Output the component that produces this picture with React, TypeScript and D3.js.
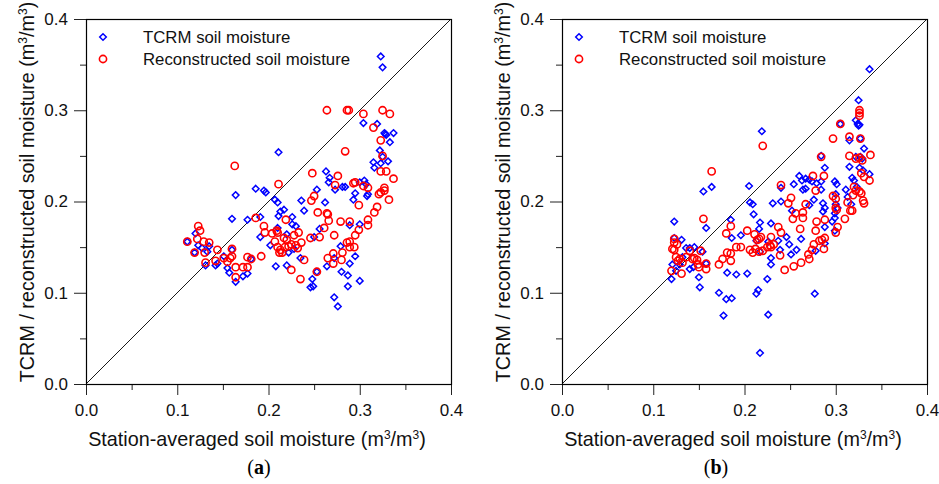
import React, { useEffect, useRef } from "react";
import * as d3 from "d3";

type Pt = [number, number];

// (a) values: [station-averaged, satellite]
const tcrmA: Pt[] = [
  [0.323, 0.359], [0.325, 0.347], [0.304, 0.286], [0.319, 0.285], [0.327, 0.275], [0.328, 0.274],
  [0.329, 0.273], [0.337, 0.275], [0.333, 0.265], [0.322, 0.256], [0.325, 0.249], [0.331, 0.244],
  [0.315, 0.243], [0.316, 0.237], [0.323, 0.242], [0.211, 0.254], [0.263, 0.233], [0.267, 0.226],
  [0.266, 0.221], [0.273, 0.213], [0.281, 0.216], [0.284, 0.216], [0.305, 0.223], [0.300, 0.221],
  [0.307, 0.219], [0.309, 0.208], [0.308, 0.206], [0.295, 0.209], [0.293, 0.202], [0.253, 0.213],
  [0.262, 0.199], [0.236, 0.201], [0.239, 0.190], [0.164, 0.207], [0.186, 0.214], [0.195, 0.212],
  [0.197, 0.210], [0.207, 0.202], [0.210, 0.199], [0.217, 0.191], [0.213, 0.189], [0.226, 0.183],
  [0.211, 0.184], [0.191, 0.183], [0.177, 0.180], [0.160, 0.181], [0.226, 0.175], [0.230, 0.173],
  [0.220, 0.164], [0.210, 0.171], [0.191, 0.161], [0.256, 0.170], [0.250, 0.161], [0.300, 0.175],
  [0.289, 0.174], [0.279, 0.151], [0.202, 0.152], [0.208, 0.129], [0.220, 0.130], [0.235, 0.138],
  [0.228, 0.148], [0.222, 0.144], [0.264, 0.129], [0.253, 0.123], [0.248, 0.115], [0.246, 0.106],
  [0.249, 0.107], [0.272, 0.095], [0.276, 0.085], [0.280, 0.123], [0.287, 0.119], [0.287, 0.107],
  [0.300, 0.113], [0.289, 0.132], [0.295, 0.140], [0.272, 0.138], [0.111, 0.156], [0.120, 0.165],
  [0.123, 0.152], [0.127, 0.149], [0.133, 0.145], [0.131, 0.130], [0.119, 0.144], [0.142, 0.130],
  [0.144, 0.132], [0.155, 0.127], [0.157, 0.122], [0.164, 0.112], [0.172, 0.118], [0.177, 0.121],
  [0.181, 0.137], [0.160, 0.147], [0.151, 0.140], [0.135, 0.151],
];

const reconA: Pt[] = [
  [0.264, 0.300], [0.286, 0.300], [0.288, 0.300], [0.304, 0.296], [0.325, 0.300], [0.333, 0.296],
  [0.315, 0.281], [0.323, 0.267], [0.325, 0.250], [0.284, 0.255], [0.163, 0.239], [0.248, 0.231],
  [0.276, 0.228], [0.273, 0.218], [0.293, 0.220], [0.295, 0.221], [0.304, 0.217], [0.309, 0.215],
  [0.323, 0.233], [0.329, 0.233], [0.337, 0.225], [0.327, 0.215], [0.323, 0.210], [0.327, 0.212],
  [0.321, 0.208], [0.332, 0.202], [0.299, 0.196], [0.319, 0.194], [0.316, 0.188], [0.309, 0.180],
  [0.309, 0.174], [0.299, 0.169], [0.295, 0.163], [0.294, 0.150], [0.289, 0.156], [0.286, 0.155],
  [0.211, 0.219], [0.250, 0.206], [0.247, 0.201], [0.254, 0.188], [0.264, 0.187], [0.265, 0.186],
  [0.266, 0.179], [0.279, 0.178], [0.289, 0.178], [0.261, 0.171], [0.256, 0.161], [0.246, 0.160],
  [0.272, 0.163], [0.186, 0.182], [0.195, 0.173], [0.196, 0.166], [0.204, 0.165], [0.219, 0.180],
  [0.209, 0.168], [0.210, 0.166], [0.217, 0.160], [0.220, 0.158], [0.228, 0.163], [0.233, 0.166],
  [0.236, 0.155], [0.207, 0.156], [0.210, 0.150], [0.213, 0.147], [0.215, 0.144], [0.212, 0.144],
  [0.218, 0.150], [0.222, 0.151], [0.225, 0.153], [0.230, 0.152], [0.232, 0.149], [0.192, 0.140],
  [0.239, 0.136], [0.225, 0.125], [0.235, 0.115], [0.253, 0.123], [0.265, 0.138], [0.271, 0.143],
  [0.271, 0.132], [0.280, 0.136], [0.281, 0.144], [0.289, 0.150], [0.111, 0.156], [0.123, 0.173],
  [0.125, 0.168], [0.122, 0.159], [0.129, 0.156], [0.135, 0.155], [0.119, 0.144], [0.130, 0.144],
  [0.131, 0.133], [0.144, 0.147], [0.142, 0.135], [0.151, 0.138], [0.155, 0.134], [0.158, 0.138],
  [0.160, 0.148], [0.160, 0.140], [0.164, 0.128], [0.164, 0.117], [0.172, 0.128], [0.177, 0.139],
  [0.177, 0.128], [0.181, 0.137],
];

// (b)
const tcrmB: Pt[] = [
  [0.337, 0.345], [0.325, 0.311], [0.322, 0.289], [0.324, 0.285], [0.326, 0.284], [0.325, 0.283],
  [0.305, 0.285], [0.315, 0.267], [0.327, 0.269], [0.331, 0.258], [0.322, 0.249], [0.327, 0.249],
  [0.329, 0.247], [0.315, 0.238], [0.326, 0.237], [0.330, 0.234], [0.318, 0.226], [0.337, 0.230],
  [0.320, 0.223], [0.323, 0.216], [0.311, 0.213], [0.313, 0.205], [0.317, 0.197], [0.284, 0.250],
  [0.288, 0.237], [0.260, 0.228], [0.263, 0.223], [0.267, 0.225], [0.271, 0.224], [0.274, 0.222],
  [0.279, 0.220], [0.284, 0.222], [0.264, 0.213], [0.267, 0.214], [0.254, 0.219], [0.240, 0.215],
  [0.284, 0.213], [0.299, 0.222], [0.301, 0.219], [0.300, 0.208], [0.276, 0.202], [0.271, 0.196],
  [0.286, 0.198], [0.288, 0.193], [0.286, 0.189], [0.300, 0.197], [0.302, 0.193], [0.299, 0.187],
  [0.296, 0.178], [0.299, 0.182], [0.288, 0.172], [0.299, 0.168], [0.252, 0.190], [0.240, 0.200],
  [0.231, 0.198], [0.205, 0.217], [0.206, 0.199], [0.209, 0.197], [0.210, 0.186], [0.219, 0.277],
  [0.217, 0.177], [0.216, 0.170], [0.229, 0.176], [0.164, 0.216], [0.155, 0.211], [0.158, 0.171],
  [0.123, 0.178], [0.185, 0.180], [0.186, 0.160], [0.196, 0.163], [0.213, 0.157], [0.226, 0.156],
  [0.237, 0.157], [0.246, 0.161], [0.249, 0.153], [0.257, 0.147], [0.262, 0.159], [0.251, 0.142],
  [0.239, 0.147], [0.229, 0.138], [0.229, 0.131], [0.217, 0.145], [0.278, 0.146], [0.288, 0.154],
  [0.203, 0.121], [0.191, 0.120], [0.181, 0.122], [0.172, 0.100], [0.180, 0.093], [0.186, 0.094],
  [0.177, 0.075], [0.213, 0.099], [0.215, 0.103], [0.225, 0.115], [0.226, 0.076], [0.217, 0.034],
  [0.277, 0.099], [0.150, 0.117], [0.151, 0.106], [0.145, 0.150], [0.140, 0.149], [0.136, 0.149],
  [0.131, 0.158], [0.123, 0.160], [0.121, 0.131], [0.120, 0.115], [0.129, 0.131], [0.132, 0.139],
  [0.140, 0.126], [0.144, 0.128], [0.125, 0.124], [0.158, 0.132], [0.154, 0.145],
];

const reconB: Pt[] = [
  [0.326, 0.300], [0.326, 0.297], [0.326, 0.294], [0.305, 0.285], [0.315, 0.271], [0.327, 0.269],
  [0.297, 0.269], [0.315, 0.250], [0.322, 0.247], [0.326, 0.248], [0.329, 0.245], [0.338, 0.251],
  [0.284, 0.249], [0.220, 0.261], [0.164, 0.233], [0.328, 0.231], [0.331, 0.227], [0.337, 0.223],
  [0.320, 0.216], [0.322, 0.212], [0.326, 0.211], [0.328, 0.209], [0.319, 0.207], [0.275, 0.228],
  [0.287, 0.228], [0.240, 0.218], [0.278, 0.212], [0.297, 0.206], [0.300, 0.203], [0.300, 0.193],
  [0.301, 0.191], [0.313, 0.199], [0.316, 0.190], [0.318, 0.190], [0.330, 0.201], [0.331, 0.198],
  [0.310, 0.181], [0.302, 0.172], [0.300, 0.166], [0.248, 0.198], [0.251, 0.204], [0.256, 0.187],
  [0.264, 0.188], [0.267, 0.197], [0.264, 0.182], [0.253, 0.181], [0.279, 0.178], [0.288, 0.180],
  [0.278, 0.168], [0.261, 0.170], [0.288, 0.160], [0.285, 0.158], [0.282, 0.157], [0.276, 0.153],
  [0.287, 0.148], [0.274, 0.147], [0.270, 0.142], [0.271, 0.137], [0.262, 0.133], [0.254, 0.129],
  [0.244, 0.125], [0.239, 0.141], [0.237, 0.172], [0.240, 0.166], [0.229, 0.161], [0.228, 0.152],
  [0.225, 0.150], [0.229, 0.150], [0.232, 0.153], [0.203, 0.168], [0.211, 0.164], [0.218, 0.161],
  [0.216, 0.159], [0.214, 0.158], [0.206, 0.147], [0.209, 0.144], [0.212, 0.148], [0.216, 0.145],
  [0.220, 0.146], [0.155, 0.181], [0.185, 0.173], [0.180, 0.165], [0.191, 0.150], [0.196, 0.150],
  [0.181, 0.144], [0.185, 0.143], [0.176, 0.137], [0.185, 0.135], [0.172, 0.131], [0.123, 0.159],
  [0.123, 0.155], [0.121, 0.148], [0.123, 0.147], [0.126, 0.153], [0.125, 0.139], [0.127, 0.135],
  [0.129, 0.137], [0.132, 0.133], [0.120, 0.124], [0.131, 0.121], [0.140, 0.146], [0.143, 0.137],
  [0.145, 0.138], [0.148, 0.136], [0.149, 0.131], [0.150, 0.128], [0.152, 0.146], [0.158, 0.132],
  [0.158, 0.126], [0.136, 0.139],
];

const majorTicks = [0, 0.1, 0.2, 0.3, 0.4];
const minorTicks = [0.05, 0.15, 0.25, 0.35];
const seriesNames = ["TCRM soil moisture", "Reconstructed soil moisture"];
const panelLabels = ["a", "b"];

const FONT = "'Liberation Sans', Arial, Helvetica, sans-serif";
const top = 19;
const bottom = 384;
const size = 365;

const App = () => {
  const ref = useRef<SVGSVGElement>(null);

  useEffect(() => {
    const svg = d3.select(ref.current);
    svg.selectAll("*").remove();

    const panels = [
      { left: 86, tcrm: tcrmA, recon: reconA, label: panelLabels[0], labelX: 259 },
      { left: 562, tcrm: tcrmB, recon: reconB, label: panelLabels[1], labelX: 716 },
    ];

    const diamond = (cx: number, cy: number) => {
      const r = 3.3;
      return `M${cx},${cy - r}L${cx + r},${cy}L${cx},${cy + r}L${cx - r},${cy}Z`;
    };

    panels.forEach((p) => {
      const x = d3.scaleLinear().domain([0, 0.4]).range([p.left, p.left + size]);
      const y = d3.scaleLinear().domain([0, 0.4]).range([bottom, top]);
      const g = svg.append("g");

      const styleAxis = (sel: any) => {
        sel.select(".domain").remove();
        sel.selectAll(".tick line").attr("stroke", "#222");
        sel
          .selectAll(".tick text")
          .attr("font-family", FONT)
          .attr("font-size", 17)
          .attr("fill", "#111");
      };

      // minor ticks
      g.append("g")
        .attr("transform", `translate(0,${bottom})`)
        .call(d3.axisBottom(x).tickValues(minorTicks).tickSize(6).tickFormat(() => ""))
        .call(styleAxis);
      g.append("g")
        .attr("transform", `translate(${p.left},0)`)
        .call(d3.axisLeft(y).tickValues(minorTicks).tickSize(6).tickFormat(() => ""))
        .call(styleAxis);

      // major ticks
      g.append("g")
        .attr("transform", `translate(0,${bottom})`)
        .call(d3.axisBottom(x).tickValues(majorTicks).tickSize(11).tickPadding(9).tickFormat(d3.format(".1f")))
        .call(styleAxis);
      g.append("g")
        .attr("transform", `translate(${p.left},0)`)
        .call(d3.axisLeft(y).tickValues(majorTicks).tickSize(12).tickPadding(6).tickFormat(d3.format(".1f")))
        .call(styleAxis);

      // frame
      g.append("rect")
        .attr("x", p.left + 0.5)
        .attr("y", top + 0.5)
        .attr("width", size)
        .attr("height", size)
        .attr("fill", "none")
        .attr("stroke", "#000")
        .attr("stroke-width", 1.2);

      // 1:1 line
      g.append("line")
        .attr("x1", x(0))
        .attr("y1", y(0))
        .attr("x2", x(0.4))
        .attr("y2", y(0.4))
        .attr("stroke", "#000")
        .attr("stroke-width", 0.9);

      // points
      g.append("g")
        .selectAll("path")
        .data(p.tcrm)
        .enter()
        .append("path")
        .attr("d", (d) => diamond(x(d[0]), y(d[1])))
        .attr("fill", "none")
        .attr("stroke", "#0000ff")
        .attr("stroke-width", 1.5);

      g.append("g")
        .selectAll("circle")
        .data(p.recon)
        .enter()
        .append("circle")
        .attr("cx", (d) => x(d[0]))
        .attr("cy", (d) => y(d[1]))
        .attr("r", 3.6)
        .attr("fill", "none")
        .attr("stroke", "#ff0000")
        .attr("stroke-width", 1.6);

      // legend
      const lx = p.left + 17;
      const lg = g.append("g");
      lg.append("rect")
        .attr("x", lx - 6)
        .attr("y", 29)
        .attr("width", 270)
        .attr("height", 38)
        .attr("fill", "#fff");
      lg.append("path")
        .attr("d", diamond(lx, 37))
        .attr("fill", "none")
        .attr("stroke", "#0000ff")
        .attr("stroke-width", 1.5);
      lg.append("circle")
        .attr("cx", lx)
        .attr("cy", 59)
        .attr("r", 3.6)
        .attr("fill", "none")
        .attr("stroke", "#ff0000")
        .attr("stroke-width", 1.6);
      seriesNames.forEach((name, i) => {
        lg.append("text")
          .attr("x", lx + 40)
          .attr("y", 43 + i * 22)
          .attr("font-family", FONT)
          .attr("font-size", 16.8)
          .attr("fill", "#111")
          .text(name);
      });

      // axis titles
      const xt = g
        .append("text")
        .attr("x", p.left + 171)
        .attr("y", 446)
        .attr("text-anchor", "middle")
        .attr("font-family", FONT)
        .attr("font-size", 19.8)
        .attr("fill", "#111");
      xt.append("tspan").text("Station-averaged soil moisture (m");
      xt.append("tspan").attr("font-size", 12).attr("dy", -7).text("3");
      xt.append("tspan").attr("dy", 7).text("/m");
      xt.append("tspan").attr("font-size", 12).attr("dy", -7).text("3");
      xt.append("tspan").attr("dy", 7).text(")");

      const yt = g
        .append("text")
        .attr("transform", `translate(${p.left - 52},192) rotate(-90)`)
        .attr("text-anchor", "middle")
        .attr("font-family", FONT)
        .attr("font-size", 19.8)
        .attr("fill", "#111");
      yt.append("tspan").text("TCRM / reconstructed soil moisture (m");
      yt.append("tspan").attr("font-size", 12).attr("dy", -7).text("3");
      yt.append("tspan").attr("dy", 7).text("/m");
      yt.append("tspan").attr("font-size", 12).attr("dy", -7).text("3");
      yt.append("tspan").attr("dy", 7).text(")");

      // panel label
      const pl = g
        .append("text")
        .attr("x", p.labelX)
        .attr("y", 474)
        .attr("text-anchor", "middle")
        .attr("font-family", "'Liberation Serif', 'DejaVu Serif', serif")
        .attr("font-size", 20)
        .attr("fill", "#000");
      pl.append("tspan").text("(");
      pl.append("tspan").attr("font-weight", "bold").text(p.label);
      pl.append("tspan").text(")");
    });

    return () => {
      d3.select(ref.current).selectAll("*").remove();
    };
  }, []);

  return (
    <svg
      ref={ref}
      width={939}
      height={484}
      style={{ position: "absolute", left: 0, top: 0, background: "#fff" }}
    />
  );
};

export default App;
